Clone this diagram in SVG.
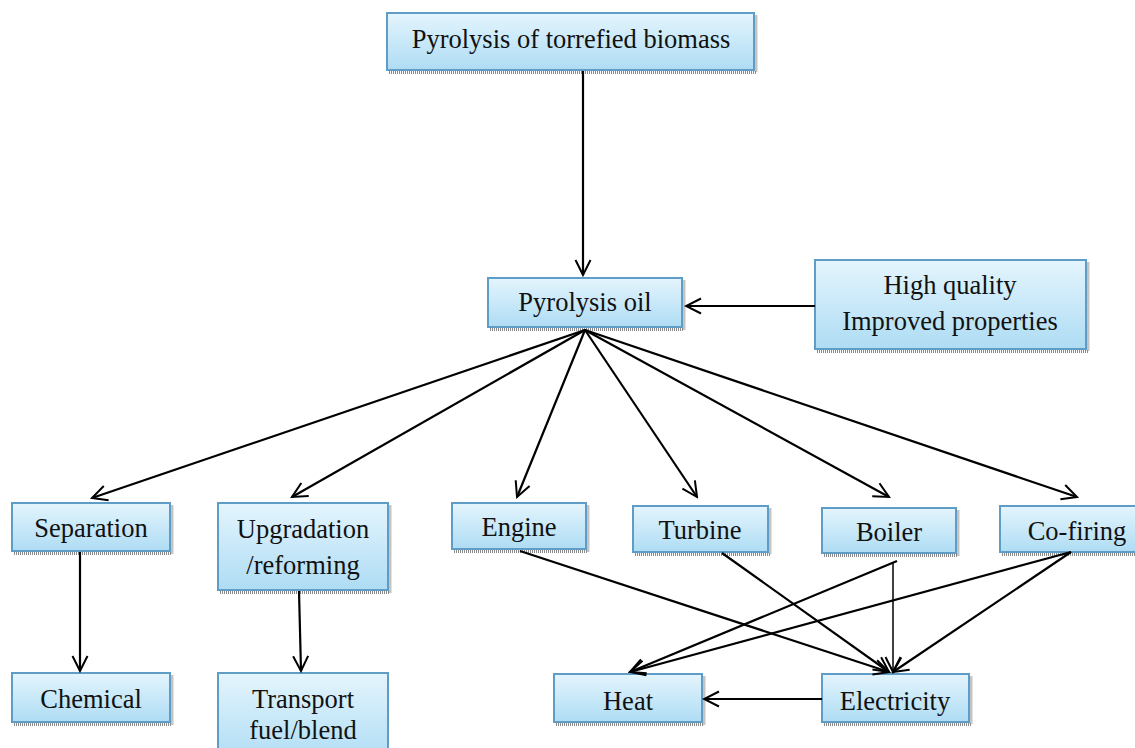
<svg xmlns="http://www.w3.org/2000/svg" width="1135" height="748" viewBox="0 0 1135 748">
<defs>
<linearGradient id="g" x1="0" y1="0" x2="0" y2="1">
<stop offset="0" stop-color="#e4f5fd"/>
<stop offset="1" stop-color="#aedcf4"/>
</linearGradient>
<marker id="arr" viewBox="0 0 20 20" refX="18" refY="10" markerWidth="20" markerHeight="20" orient="auto" markerUnits="userSpaceOnUse">
<path d="M3,2.5 L18,10 L3,17.5" fill="none" stroke="#000" stroke-width="2"/>
</marker>
</defs>
<style>
.box{fill:url(#g);stroke:#5f9cc6;stroke-width:2}
.sh{fill:none;stroke:#8a8a8a;stroke-width:3;stroke-dasharray:1 1}
.t{font-family:"Liberation Serif","Times New Roman",serif;font-size:26.5px;fill:#111;text-anchor:middle}
.c line{stroke:#000;stroke-width:2.2;marker-end:url(#arr)}
</style>
<rect width="1135" height="748" fill="#fff"/>

<g id="n-top">
<path class="sh" d="M389,72.5 H756 V15"/>
<rect class="box" x="387" y="13" width="367" height="57"/>
<text class="t" x="571" y="48">Pyrolysis of torrefied biomass</text>
</g>
<g id="n-oil">
<path class="sh" d="M490,329.5 H684 V280"/>
<rect class="box" x="488" y="278" width="194" height="49"/>
<text class="t" x="585" y="311">Pyrolysis oil</text>
</g>
<g id="n-hq">
<path class="sh" d="M817,351.5 H1088 V262"/>
<rect class="box" x="815" y="260" width="271" height="89"/>
<text class="t" x="950" y="294">High quality</text>
<text class="t" x="950" y="330">Improved properties</text>
</g>
<g id="n-sep">
<path class="sh" d="M14,553.5 H172 V505"/>
<rect class="box" x="12" y="503" width="158" height="48"/>
<text class="t" x="91" y="537">Separation</text>
</g>
<g id="n-upg">
<path class="sh" d="M220,592.5 H390 V505"/>
<rect class="box" x="218" y="503" width="170" height="87"/>
<text class="t" x="303" y="538">Upgradation</text>
<text class="t" x="303" y="574">/reforming</text>
</g>
<g id="n-engine">
<path class="sh" d="M454,551.5 H588 V505"/>
<rect class="box" x="452" y="503" width="134" height="46"/>
<text class="t" x="519" y="536">Engine</text>
</g>
<g id="n-turbine">
<path class="sh" d="M635,554.5 H770 V508"/>
<rect class="box" x="633" y="506" width="135" height="46"/>
<text class="t" x="700" y="539">Turbine</text>
</g>
<g id="n-boiler">
<path class="sh" d="M824,555.5 H958 V510"/>
<rect class="box" x="822" y="508" width="134" height="45"/>
<text class="t" x="889" y="541">Boiler</text>
</g>
<g id="n-cofiring">
<path class="sh" d="M1002,554.5 H1142"/>
<rect class="box" x="1000" y="506" width="140" height="46"/>
<text class="t" x="1077" y="540">Co-firing</text>
</g>
<g id="n-chemical">
<path class="sh" d="M14,724.5 H172 V675"/>
<rect class="box" x="12" y="673" width="158" height="49"/>
<text class="t" x="91" y="708">Chemical</text>
</g>
<g id="n-transport">
<rect class="box" x="218" y="673" width="170" height="90"/>
<text class="t" x="303" y="708">Transport</text>
<text class="t" x="303" y="739">fuel/blend</text>
</g>
<g id="n-heat">
<path class="sh" d="M556,724.5 H704 V676"/>
<rect class="box" x="554" y="674" width="148" height="48"/>
<text class="t" x="628" y="710">Heat</text>
</g>
<g id="n-elec">
<path class="sh" d="M824,724.5 H971 V676"/>
<rect class="box" x="822" y="674" width="147" height="48"/>
<text class="t" x="895" y="710">Electricity</text>
</g>

<g id="connectors" class="c">
<line x1="583" y1="71" x2="583" y2="275"/>
<line x1="815" y1="306" x2="686" y2="306"/>
<line x1="585" y1="330" x2="92" y2="498"/>
<line x1="585" y1="330" x2="292" y2="497"/>
<line x1="585" y1="330" x2="517" y2="497"/>
<line x1="585" y1="330" x2="697" y2="497"/>
<line x1="585" y1="330" x2="889" y2="497"/>
<line x1="585" y1="330" x2="1077" y2="497"/>
<line x1="80" y1="552" x2="80" y2="671"/>
<line x1="299" y1="591" x2="301" y2="671"/>
<line x1="520" y1="551" x2="889" y2="672"/>
<line x1="722" y1="553" x2="889" y2="672"/>
<line x1="893" y1="562" x2="893" y2="672" style="stroke-width:1.5"/>
<line x1="897" y1="561" x2="630" y2="672"/>
<line x1="1071" y1="552" x2="630" y2="672"/>
<line x1="1071" y1="552" x2="893" y2="672"/>
<line x1="822" y1="699" x2="704" y2="699"/>
</g>
</svg>
